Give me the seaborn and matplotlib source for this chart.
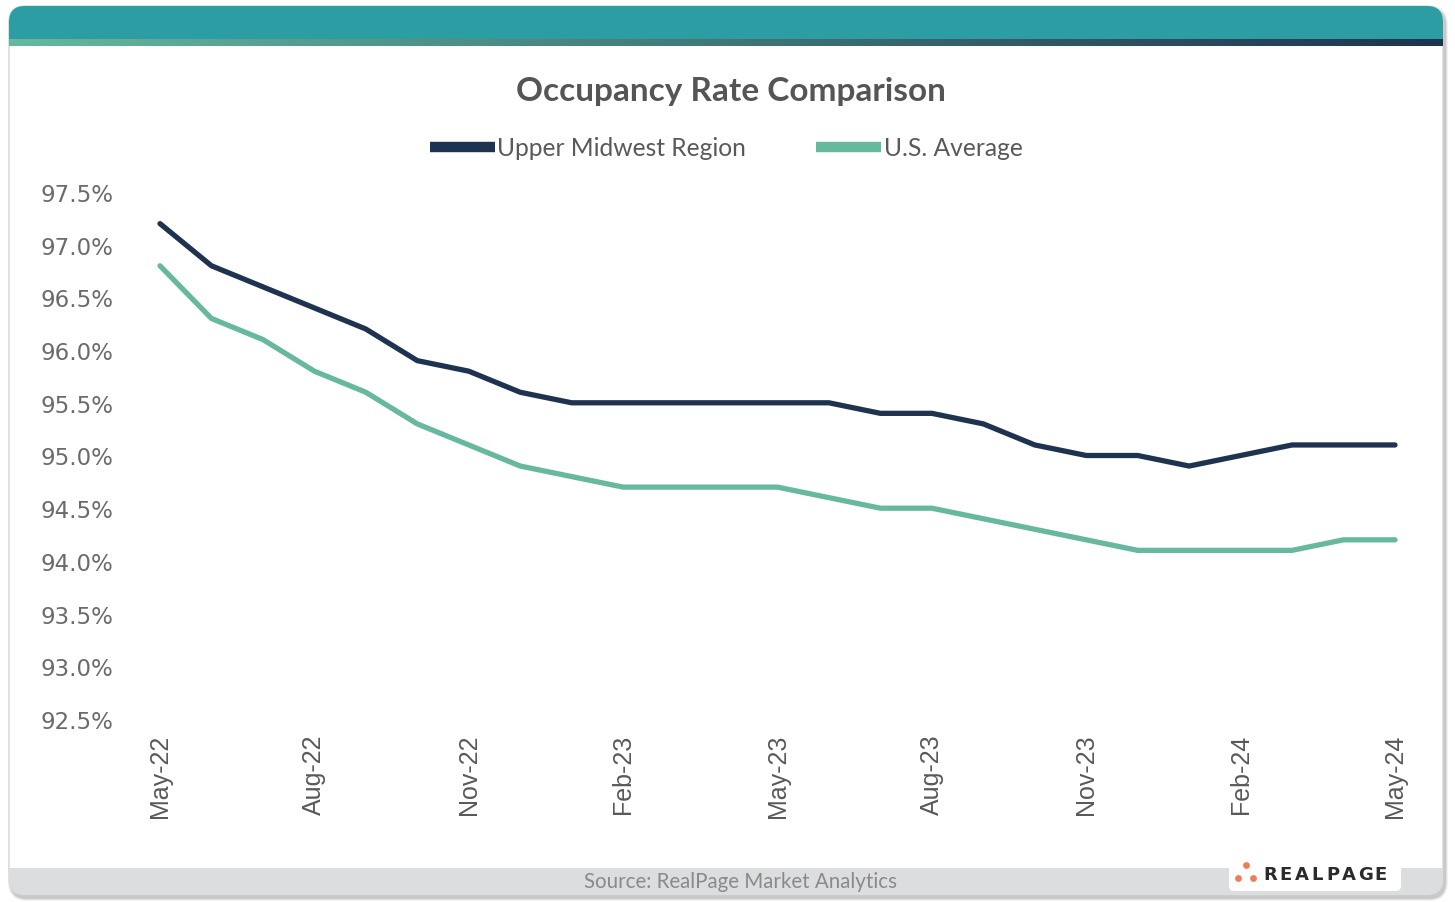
import numpy as np
import pandas as pd
import matplotlib
matplotlib.use("Agg")
import matplotlib.pyplot as plt
from matplotlib.patches import FancyBboxPatch, Rectangle
import seaborn as sns

months = ["May-22", "Jun-22", "Jul-22", "Aug-22", "Sep-22", "Oct-22", "Nov-22", "Dec-22",
          "Jan-23", "Feb-23", "Mar-23", "Apr-23", "May-23", "Jun-23", "Jul-23", "Aug-23",
          "Sep-23", "Oct-23", "Nov-23", "Dec-23", "Jan-24", "Feb-24", "Mar-24", "Apr-24", "May-24"]
upper_midwest = [97.2, 96.8, 96.6, 96.4, 96.2, 95.9, 95.8, 95.6, 95.5, 95.5, 95.5, 95.5, 95.5,
                 95.5, 95.4, 95.4, 95.3, 95.1, 95.0, 95.0, 94.9, 95.0, 95.1, 95.1, 95.1]
us_average = [96.8, 96.3, 96.1, 95.8, 95.6, 95.3, 95.1, 94.9, 94.8, 94.7, 94.7, 94.7, 94.7,
              94.6, 94.5, 94.5, 94.4, 94.3, 94.2, 94.1, 94.1, 94.1, 94.1, 94.2, 94.2]
series_names = ["Upper Midwest Region", "U.S. Average"]
yticks = [92.5, 93.0, 93.5, 94.0, 94.5, 95.0, 95.5, 96.0, 96.5, 97.0, 97.5]
xtick_labels = ["May-22", "Aug-22", "Nov-22", "Feb-23", "May-23", "Aug-23", "Nov-23", "Feb-24", "May-24"]

NAVY = "#1E3350"
GREEN = "#66B89E"
TEAL = "#2C9EA3"

sns.set_theme(style="white")
plt.rcParams['font.family'] = ['Lato', 'DejaVu Sans']

W, H = 1455, 903
fig = plt.figure(figsize=(W / 100, H / 100), dpi=100)
fig.patch.set_facecolor("white")

# background axes in pixel coordinates
bg = fig.add_axes([0, 0, 1, 1])
bg.set_xlim(0, W)
bg.set_ylim(H, 0)
bg.axis("off")

cx0, cy0, cx1, cy1 = 9, 7, 1443, 896
rad = 16
# shadow
for i, a in enumerate([0.05, 0.07, 0.10]):
    off = 3 - i
    sh = FancyBboxPatch((cx0 - off + 2, cy0 - off + 3), (cx1 - cx0) + 2 * off, (cy1 - cy0) + 2 * off,
                        boxstyle=f"round,pad=0,rounding_size={rad + off}", fc="black", ec="none", alpha=a)
    bg.add_patch(sh)
card = FancyBboxPatch((cx0, cy0), cx1 - cx0, cy1 - cy0,
                      boxstyle=f"round,pad=0,rounding_size={rad}", fc="white", ec="#d0d0d0", lw=0.8)
bg.add_patch(card)

# top band
top = Rectangle((cx0, cy0), cx1 - cx0, 33, fc=TEAL, ec="none")
bg.add_patch(top)
top.set_clip_path(card)
# gradient strip
grad = np.linspace(0, 1, 256)
c0 = np.array(matplotlib.colors.to_rgb(GREEN))
c1 = np.array(matplotlib.colors.to_rgb(NAVY))
img = (c0[None, :] * (1 - grad[:, None]) + c1[None, :] * grad[:, None])[None, :, :]
im = bg.imshow(img, extent=(cx0, cx1, 47, 40), aspect="auto", interpolation="bilinear", zorder=2)
im.set_clip_path(card)
# bottom band
bot = Rectangle((cx0, 869), cx1 - cx0, cy1 - 869, fc="#DCDDDF", ec="none")
bg.add_patch(bot)
bot.set_clip_path(card)

# logo box
logo = FancyBboxPatch((1229, 862), 172, 30, boxstyle="round,pad=0,rounding_size=5", fc="white", ec="none", zorder=3)
bg.add_patch(logo)
bg.scatter([1238, 1246, 1253], [879, 866, 879], s=24, color="#F07C5B", zorder=4, linewidths=0)
logo_text = "REALPAGE"
lx = 1263
for ch in logo_text:
    t = bg.text(lx, 875, ch, fontsize=13, fontweight="bold", color="#2b2b2b", va="center", ha="left",
                family=["DejaVu Sans"], zorder=4)
    lx += 16.2 if ch not in "L" else 14.5
bg.text(741, 882, "Source: RealPage Market Analytics", fontsize=14.8, color="#8a8a8a", ha="center", va="center")

# title
fig.text(731 / W, 1 - 91 / H, "Occupancy Rate Comparison", fontsize=24, fontweight="bold", color="#555555",
         ha="center", va="center")
# legend
bg.plot([430, 495], [148, 148], color=NAVY, lw=7.5, solid_capstyle="butt")
bg.text(497, 148, series_names[0], fontsize=17.7, color="#595959", ha="left", va="center")
bg.plot([816, 881], [148, 148], color=GREEN, lw=7.5, solid_capstyle="butt")
bg.text(884, 148, series_names[1], fontsize=17.7, color="#595959", ha="left", va="center")

# main axes
left_px, right_px, top_px, bot_px = 130, 1420, 185, 725
ax = fig.add_axes([left_px / W, 1 - bot_px / H, (right_px - left_px) / W, (bot_px - top_px) / H])
ax.set_facecolor("none")

df = pd.DataFrame({
    "idx": list(range(len(months))) * 2,
    "value": upper_midwest + us_average,
    "series": [series_names[0]] * len(months) + [series_names[1]] * len(months),
})
sns.lineplot(data=df, x="idx", y="value", hue="series", palette=[NAVY, GREEN], linewidth=3.8,
             legend=False, ax=ax, solid_joinstyle="round", solid_capstyle="round")

ppu = (1395 - 160) / 24
ax.set_xlim(-(160 - left_px) / ppu, 24 + (right_px - 1395) / ppu)
ppy = (720 - 193) / 5.0
ax.set_ylim(92.5 - (bot_px - 720) / ppy, 97.5 + (193 - top_px) / ppy)

ax.set_xticks([months.index(m) for m in xtick_labels])
ax.set_xticklabels(xtick_labels, rotation=90, fontsize=18, color="#595959", family=["Liberation Sans"])
ax.set_yticks(yticks)
ax.set_yticklabels([f"{v:.1f}%" for v in yticks], fontsize=16.5, color="#6b6b6b", family=["DejaVu Sans"])
ax.tick_params(axis="x", length=0, pad=7)
ax.tick_params(axis="y", length=0, pad=12)
for s in ax.spines.values():
    s.set_visible(False)
ax.set_xlabel("")
ax.set_ylabel("")
ax.grid(False)

fig.savefig("out.png", dpi=100)
